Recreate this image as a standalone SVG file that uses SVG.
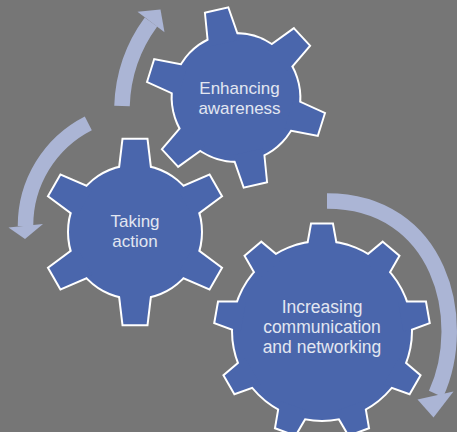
<svg xmlns="http://www.w3.org/2000/svg" xmlns:xlink="http://www.w3.org/1999/xlink" width="457" height="432" viewBox="0 0 457 432">
<style>
.halo{fill:#ffffff;stroke:#ffffff;stroke-width:4;stroke-linejoin:miter}
.body{fill:#4a66ac;stroke:none}
.lbl{font-family:"Liberation Sans",Arial,sans-serif;fill:#e2e6f1;text-anchor:middle}
.shaft{fill:none;stroke:#abb5d5;stroke-width:15.5;stroke-linecap:butt}
.head{fill:#abb5d5;stroke:none}
</style>
<defs>
<polygon id="t6" points="-11.6,-92.3 11.6,-92.3 15.7,-58 -15.7,-58"/>
<g id="gear6">
<circle cx="0" cy="0" r="66"/>
<use href="#t6"/>
<use href="#t6" transform="rotate(60)"/>
<use href="#t6" transform="rotate(120)"/>
<use href="#t6" transform="rotate(180)"/>
<use href="#t6" transform="rotate(240)"/>
<use href="#t6" transform="rotate(300)"/>
</g>
<polygon id="t9" points="-10.1,-106.5 10.1,-106.5 14.9,-80 -14.9,-80"/>
<g id="gear9">
<circle cx="0" cy="0" r="89"/>
<use href="#t9"/>
<use href="#t9" transform="rotate(40)"/>
<use href="#t9" transform="rotate(80)"/>
<use href="#t9" transform="rotate(120)"/>
<use href="#t9" transform="rotate(160)"/>
<use href="#t9" transform="rotate(200)"/>
<use href="#t9" transform="rotate(240)"/>
<use href="#t9" transform="rotate(280)"/>
<use href="#t9" transform="rotate(320)"/>
</g>
</defs>
<rect x="0" y="0" width="457" height="432" fill="#767676"/>
<g id="connectors">
<path class="shaft" d="M122,106 A150,150 0 0 1 151,22"/>
<polygon class="head" points="137.5,11.8 160.5,9.5 164.5,32.2"/>
<path class="shaft" d="M88.3,123.3 A115,115 0 0 0 25.5,226"/>
<polygon class="head" points="8.5,227.5 25,239 43,224"/>
<path class="shaft" d="M327,201 C440,201 470,320 436,394"/>
<polygon class="head" points="417.5,399.5 433.5,417.5 453.5,391.5"/>
</g>
<g id="gear-enhancing">
<g transform="translate(236,97.5) rotate(-12.5) scale(0.96)">
<use href="#gear6" class="halo"/>
<use href="#gear6" class="body"/>
</g>
<text class="lbl" font-size="17" x="239.5" y="94">Enhancing</text>
<text class="lbl" font-size="17" x="239.5" y="113.5">awareness</text>
</g>
<g id="gear-taking">
<g transform="translate(135,232)">
<use href="#gear6" class="halo"/>
<use href="#gear6" class="body"/>
</g>
<text class="lbl" font-size="17" x="135" y="227.3">Taking</text>
<text class="lbl" font-size="17" x="135" y="247.3">action</text>
</g>
<g id="gear-increasing">
<g transform="translate(322,331)">
<use href="#gear9" class="halo"/>
<use href="#gear9" class="body"/>
</g>
<text class="lbl" font-size="17.5" x="322" y="312.7">Increasing</text>
<text class="lbl" font-size="17.5" x="322" y="332.7">communication</text>
<text class="lbl" font-size="17.5" x="322" y="353.3">and networking</text>
</g>
</svg>
